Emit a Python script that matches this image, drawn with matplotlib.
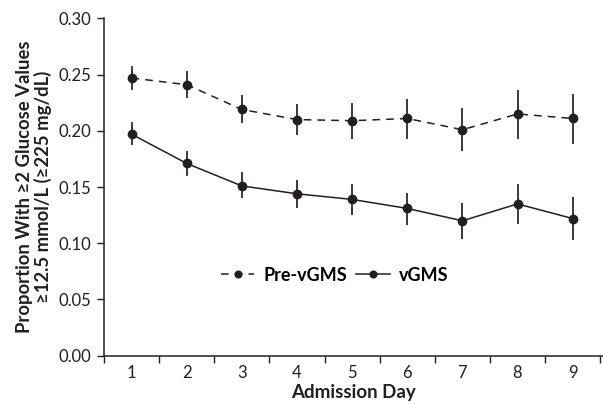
import matplotlib
matplotlib.use('Agg')
import matplotlib.pyplot as plt
import numpy as np

plt.rcParams['font.family'] = ['Lato', 'DejaVu Sans']

# dados
days = [1, 2, 3, 4, 5, 6, 7, 8, 9]
pre_vals = [0.247, 0.241, 0.219, 0.210, 0.209, 0.211, 0.201, 0.215, 0.211]
pre_low = [0.236, 0.229, 0.207, 0.196, 0.193, 0.193, 0.182, 0.193, 0.188]
pre_high = [0.258, 0.253, 0.232, 0.224, 0.225, 0.228, 0.220, 0.236, 0.233]
vgms_vals = [0.197, 0.171, 0.151, 0.144, 0.139, 0.131, 0.120, 0.135, 0.122]
vgms_low = [0.187, 0.160, 0.140, 0.131, 0.125, 0.116, 0.104, 0.117, 0.103]
vgms_high = [0.208, 0.182, 0.163, 0.156, 0.153, 0.145, 0.136, 0.153, 0.141]
yticks = [0.00, 0.05, 0.10, 0.15, 0.20, 0.25, 0.30]

fig = plt.figure(figsize=(6.03, 4.04), dpi=100)
ax = fig.add_axes([0.1725, 0.1195, 0.8275, 0.835])

pre_err = [np.array(pre_vals) - np.array(pre_low), np.array(pre_high) - np.array(pre_vals)]
vg_err = [np.array(vgms_vals) - np.array(vgms_low), np.array(vgms_high) - np.array(vgms_vals)]

# barras de erro
ax.errorbar(days, pre_vals, yerr=pre_err, fmt='none', ecolor='#3a3a3a', elinewidth=1.4, capsize=0)
ax.errorbar(days, vgms_vals, yerr=vg_err, fmt='none', ecolor='#3a3a3a', elinewidth=1.4, capsize=0)

# linhas
ax.plot(days, pre_vals, color='#231f20', linestyle=(0, (5, 4)), linewidth=1.1,
        marker='o', markersize=6, label='Pre-vGMS')
ax.plot(days, vgms_vals, color='#231f20', linestyle='-', linewidth=1.1,
        marker='o', markersize=6, label='vGMS')

ax.set_xlim(0.5, 9.55)
ax.set_ylim(0, 0.30)
ax.set_yticks(yticks)
ax.set_yticklabels([f'{t:.2f}' for t in yticks], fontsize=12, color='#231f20')
ax.set_xticks(days)
ax.set_xticklabels([str(d) for d in days], fontsize=12, color='#231f20')
ax.tick_params(axis='x', which='major', length=0, pad=7)
ax.set_xticks(np.arange(0.5, 10, 1), minor=True)
ax.tick_params(axis='x', which='minor', length=5, width=1, color='#231f20')
ax.tick_params(axis='y', length=5, width=1, color='#231f20', pad=4)

for s in ['top', 'right']:
    ax.spines[s].set_visible(False)
for s in ['left', 'bottom']:
    ax.spines[s].set_linewidth(1.1)
    ax.spines[s].set_color('#231f20')

ax.set_xlabel('Admission Day', fontsize=13.5, fontweight='bold', labelpad=2, color='#231f20')
ax.set_ylabel('Proportion With \u22652 Glucose Values\n\u226512.5 mmol/L (\u2265225 mg/dL)',
              fontsize=13.3, fontweight='bold', labelpad=5, color='#231f20', linespacing=1.05)

leg = ax.legend(loc='center', bbox_to_anchor=(0.462, 0.239), ncol=2, frameon=False,
                prop={'weight': 'bold', 'size': 13}, handlelength=1.85, markerscale=0.8,
                handletextpad=0.5, columnspacing=0.5)

plt.savefig('out.png', dpi=100)
